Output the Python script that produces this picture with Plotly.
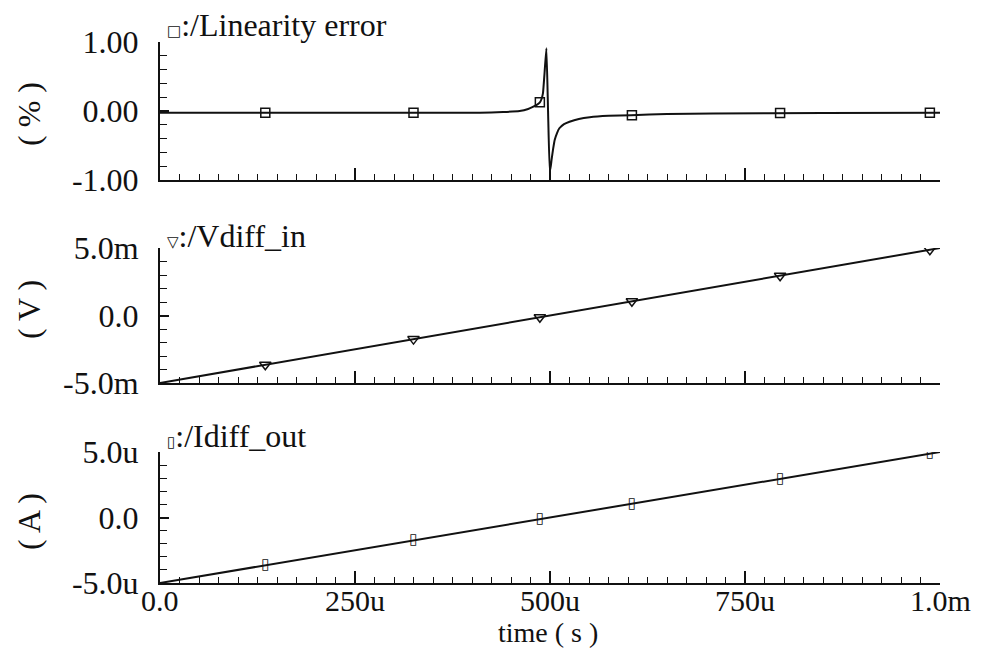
import plotly.graph_objects as go

# ---- data -------------------------------------------------------------
# Linearity error trace (time in seconds, error in %)
lin_t = [0, 50e-6, 100e-6, 200e-6, 300e-6, 410e-6, 440e-6, 461e-6, 472e-6,
         478e-6, 483e-6, 487e-6, 489e-6, 491e-6, 493e-6, 495.4e-6, 497.5e-6,
         499.7e-6, 501e-6, 502e-6, 504e-6, 506e-6, 509e-6, 512e-6, 518e-6,
         525e-6, 537e-6, 551e-6, 575e-6, 604e-6, 650e-6, 709e-6, 850e-6, 1e-3]
lin_err = [-0.024, -0.024, -0.024, -0.025, -0.025, -0.024, -0.015, 0.0, 0.03,
           0.06, 0.09, 0.126, 0.17, 0.26, 0.55, 0.91, 0.0,
           -0.88, -0.8, -0.71, -0.55, -0.42, -0.32, -0.25, -0.19,
           -0.155, -0.115, -0.09, -0.07, -0.06, -0.045, -0.035, -0.03, -0.025]

# Marker sample times and values
mk_t = [135e-6, 325e-6, 487e-6, 605e-6, 795e-6, 987e-6]
mk_err = [-0.024, -0.025, 0.126, -0.06, -0.03, -0.025]

# Vdiff_in ramp (V)
vin_t = [0, 1e-3]
vin_v = [-5e-3, 5e-3]
mk_vin = [-3.65e-3, -1.75e-3, -0.13e-3, 1.05e-3, 2.95e-3, 4.87e-3]

# Idiff_out ramp (A)
iout_t = [0, 1e-3]
iout_i = [-5e-6, 5e-6]
mk_iout = [-3.65e-6, -1.75e-6, -0.13e-6, 1.05e-6, 2.95e-6, 4.87e-6]

# axis ticks
x_ticks = [0, 250e-6, 500e-6, 750e-6, 1e-3]
x_labels = ["0.0", "250u", "500u", "750u", "1.0m"]
y1_ticks, y1_labels = [-1, 0, 1], ["-1.00", "0.00", "1.00"]
y2_ticks, y2_labels = [-5e-3, 0, 5e-3], ["-5.0m", "0.0", "5.0m"]
y3_ticks, y3_labels = [-5e-6, 0, 5e-6], ["-5.0u", "0.0", "5.0u"]

# ---- layout geometry (pixels) ----------------------------------------
W, H = 986, 648
L, R, T, B = 160, 46, 42, 65
PW, PH = W - L - R, H - T - B


def px_x(px):
    return (px - L) / PW


def px_y(py):
    return (H - B - py) / PH


INK = "#111111"
FONT = "Liberation Serif"
FS = 32

fig = go.Figure()

# panel 1: linearity error
fig.add_trace(go.Scatter(x=lin_t, y=lin_err, mode="lines",
                         line=dict(color=INK, width=2, shape="spline", smoothing=0.4),
                         xaxis="x", yaxis="y"))
fig.add_trace(go.Scatter(x=mk_t, y=mk_err, mode="markers",
                         marker=dict(symbol="square-open", size=9, color=INK,
                                     line=dict(width=1.5, color=INK)),
                         xaxis="x", yaxis="y"))

# panel 2: Vdiff_in
fig.add_trace(go.Scatter(x=vin_t, y=vin_v, mode="lines",
                         line=dict(color=INK, width=2), xaxis="x2", yaxis="y2"))
fig.add_trace(go.Scatter(x=mk_t, y=mk_vin, mode="markers",
                         marker=dict(symbol="triangle-down-open", size=10, color=INK,
                                     line=dict(width=1.5, color=INK)),
                         xaxis="x2", yaxis="y2"))

# panel 3: Idiff_out (narrow rectangle glyph markers)
fig.add_trace(go.Scatter(x=iout_t, y=iout_i, mode="lines",
                         line=dict(color=INK, width=2), xaxis="x3", yaxis="y3"))
fig.add_trace(go.Scatter(x=mk_t, y=mk_iout, mode="text", text=["\u25af"] * len(mk_t),
                         textposition="middle center",
                         textfont=dict(family="DejaVu Sans", size=15, color=INK),
                         xaxis="x3", yaxis="y3"))

minor_x = [i * 25e-6 for i in range(41)]


def xaxis(anchor):
    return dict(
        domain=[0, 1], anchor=anchor, range=[0, 1e-3],
        showline=True, linecolor=INK, linewidth=2,
        showgrid=False, zeroline=False,
        tickmode="array", tickvals=x_ticks, ticktext=x_labels,
        showticklabels=False,
        ticks="inside", ticklen=12, tickwidth=1.5, tickcolor=INK,
        minor=dict(ticks="inside", ticklen=6, tickwidth=1.2, tickcolor=INK,
                   tickmode="array", tickvals=minor_x, showgrid=False),
    )


def yaxis(anchor, dom, rng, tv, tt):
    step = (rng[1] - rng[0]) / 10
    return dict(
        domain=dom, anchor=anchor, range=rng,
        showline=True, linecolor=INK, linewidth=2,
        showgrid=False, zeroline=False,
        tickmode="array", tickvals=tv, ticktext=tt,
        ticks="inside", ticklen=9, tickwidth=1.5, tickcolor=INK,
        minor=dict(ticks="inside", ticklen=7, tickwidth=1.2, tickcolor=INK,
                   tickmode="array",
                   tickvals=[rng[0] + i * step for i in range(11)],
                   showgrid=False),
        tickfont=dict(family=FONT, size=FS, color=INK),
        ticklabelstandoff=13,
    )


fig.update_layout(
    width=W, height=H,
    margin=dict(l=L, r=R, t=T, b=B, pad=0),
    paper_bgcolor="white", plot_bgcolor="white",
    showlegend=False,
    font=dict(family=FONT, color=INK),
    xaxis=xaxis("y"),
    xaxis2=xaxis("y2"),
    xaxis3=xaxis("y3"),
    yaxis=yaxis("x", [px_y(180), 1.0], [-1, 1], y1_ticks, y1_labels),
    yaxis2=yaxis("x2", [px_y(383), px_y(248)], [-5e-3, 5e-3], y2_ticks, y2_labels),
    yaxis3=yaxis("x3", [0, px_y(452)], [-5e-6, 5e-6], y3_ticks, y3_labels),
)

# time tick labels under the bottom panel
for tv, tt in zip(x_ticks, x_labels):
    fig.add_annotation(
        xref="x3", yref="paper", x=tv, y=px_y(600),
        xanchor="center", yanchor="middle", showarrow=False,
        text=tt, font=dict(family=FONT, size=30, color=INK),
    )

# signal names above each panel
names = [
    ("\u25a1", "/Linearity error", 25),
    ("\u25bd", "/Vdiff_in", 236),
    ("\u25af", "/Idiff_out", 436),
]
for sym, name, py in names:
    fig.add_annotation(
        xref="paper", yref="paper", x=px_x(165), y=px_y(py),
        xanchor="left", yanchor="middle", showarrow=False,
        text=f"<span style='font-family:DejaVu Sans;font-size:15px'>{sym}</span>:{name}",
        font=dict(family=FONT, size=FS, color=INK),
    )

# unit labels on the left
for unit, py in [("( % )", 114), ("( V )", 310), ("( A )", 522)]:
    fig.add_annotation(
        xref="paper", yref="paper", x=px_x(29), y=px_y(py),
        xanchor="center", yanchor="middle", showarrow=False, textangle=-90,
        text=unit, font=dict(family=FONT, size=FS, color=INK),
    )

# time axis title
fig.add_annotation(
    xref="paper", yref="paper", x=px_x(548), y=px_y(632),
    xanchor="center", yanchor="middle", showarrow=False,
    text="time ( s )", font=dict(family=FONT, size=28, color=INK),
)

fig.write_html("out.html")
